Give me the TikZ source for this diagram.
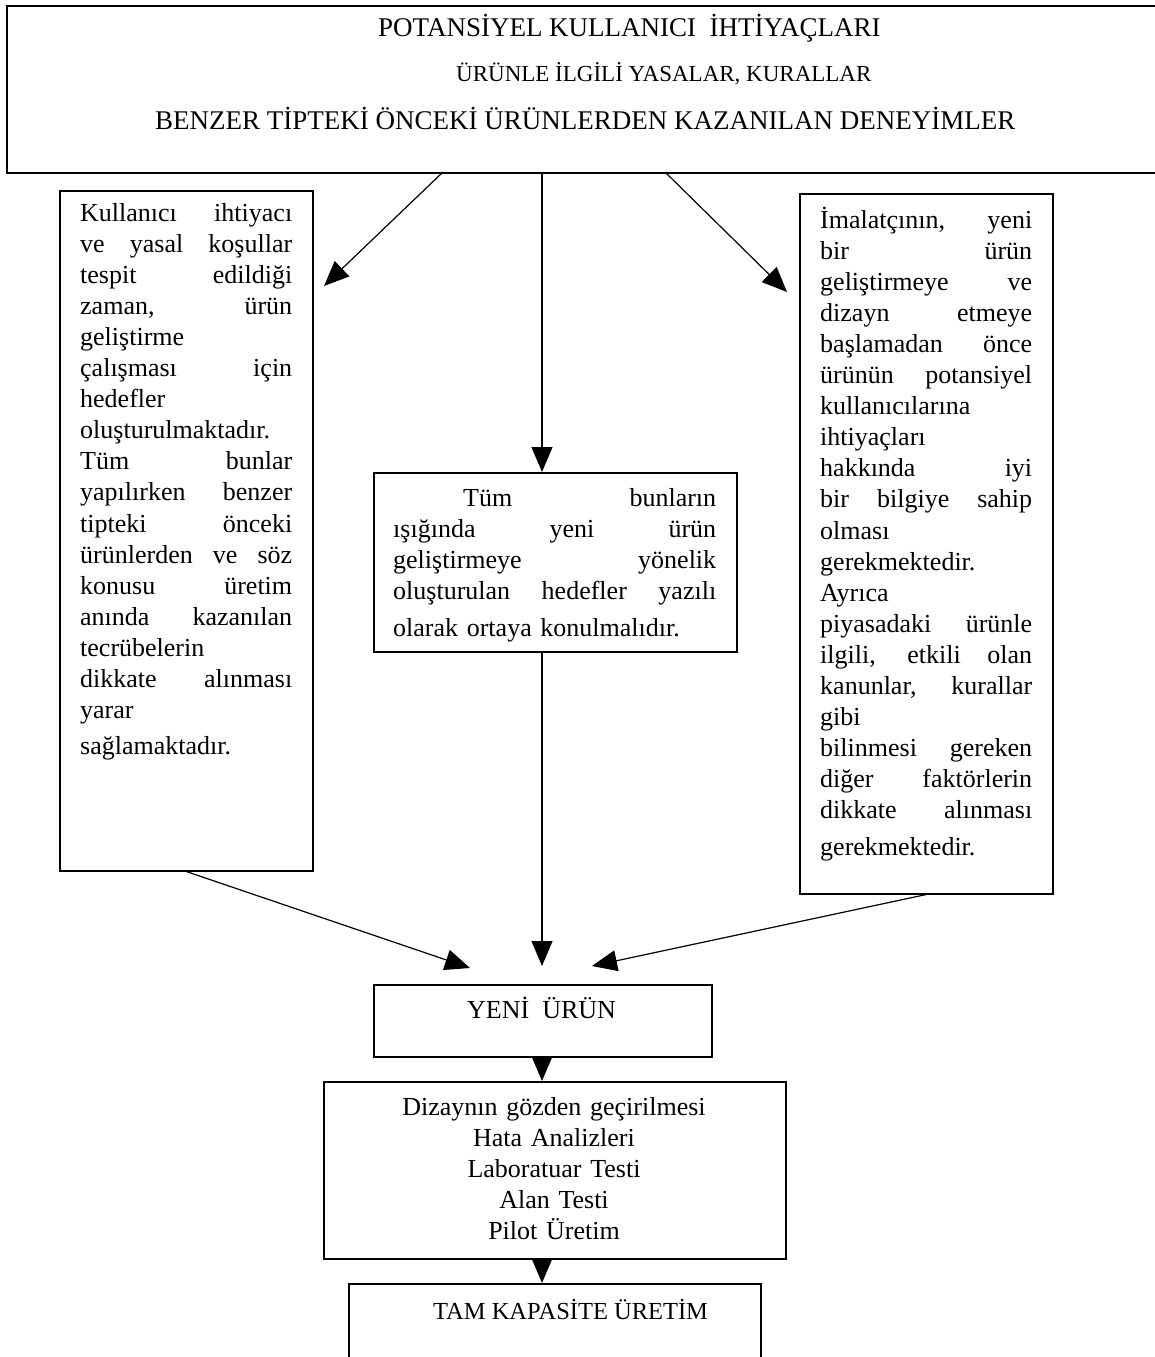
\documentclass[tikz,border=0pt]{standalone}
\usepackage{fontspec}
\setmainfont{Liberation Serif}
\usetikzlibrary{arrows.meta}
\newcommand{\J}[1]{\makebox[\hsize][s]{\spaceskip=0.25em plus 1fil\relax #1}}
\newcommand{\bodyfont}{\fontsize{26}{31.1}\selectfont}
\newcommand{\topfont}{\fontsize{27}{30}\selectfont}
\newcommand{\topfontb}{\fontsize{23}{30}\selectfont}
\begin{document}
\begin{tikzpicture}[x=1pt,y=-1pt,
  box/.style={draw, line width=1.5pt, rectangle, inner sep=0pt, anchor=north west},
  arr/.style={line width=1.2pt, -{Triangle[length=25pt,width=21pt]}},
  para/.style={anchor=base west, inner sep=0pt, align=left, text width=#1, font=\bodyfont},
  toptext/.style={anchor=base west, inner sep=0pt, font=\topfont},
  ]
\fill[white] (0,0) rectangle (1155,1357);
\useasboundingbox (0,0) rectangle (1155,1357);

% boxes
\node[box, minimum width=1160pt, minimum height=167pt] (top) at (6,5) {};
\node[box, minimum width=253pt, minimum height=680pt] (L) at (59,190) {};
\node[box, minimum width=253pt, minimum height=700pt] (R) at (799,193) {};
\node[box, minimum width=363pt, minimum height=179pt] (M) at (373,472) {};
\node[box, minimum width=338pt, minimum height=72pt] (Y) at (373,984) {};
\node[box, minimum width=462pt, minimum height=177pt] (D) at (323,1081) {};
\node[box, minimum width=412pt, minimum height=90pt] (T) at (348,1283) {};

% top texts
\node[toptext] (t1) at (378,36) {POTANSİYEL KULLANICI\ \ İHTİYAÇLARI};
\node[toptext, font=\topfontb] (t2) at (456,81) {ÜRÜNLE İLGİLİ YASALAR, KURALLAR};
\node[toptext] (t3) at (155,129) {BENZER TİPTEKİ ÖNCEKİ ÜRÜNLERDEN KAZANILAN DENEYİMLER};

% left text
\node[para=212pt] (Ltext) at (80,221) {%
\J{Kullanıcı ihtiyacı}\\
\J{ve yasal koşullar}\\
\J{tespit edildiği}\\
\J{zaman, ürün}\\
geliştirme\\
\J{çalışması için}\\
hedefler\\
oluşturulmaktadır.\\
\J{Tüm bunlar}\\
\J{yapılırken benzer}\\
\J{tipteki önceki}\\
\J{ürünlerden ve söz}\\
\J{konusu üretim}\\
\J{anında kazanılan}\\
tecrübelerin\\
\J{dikkate alınması}\\
yarar\\[5pt]
sağlamaktadır.};

% right text
\node[para=212pt] (Rtext) at (820,228) {%
\J{İmalatçının, yeni}\\
\J{bir ürün}\\
\J{geliştirmeye ve}\\
\J{dizayn etmeye}\\
\J{başlamadan önce}\\
\J{ürünün potansiyel}\\
kullanıcılarına\\
ihtiyaçları\\
\J{hakkında iyi}\\
\J{bir bilgiye sahip}\\
olması\\
gerekmektedir.\\
Ayrıca\\
\J{piyasadaki ürünle}\\
\J{ilgili, etkili olan}\\
\J{kanunlar, kurallar}\\
gibi\\
\J{bilinmesi gereken}\\
\J{diğer faktörlerin}\\
\J{dikkate alınması}\\[5pt]
gerekmektedir.};

% middle text
\node[para=323pt] (Mtext) at (393,506) {%
\J{\hspace*{70pt}Tüm bunların}\\
\J{ışığında yeni ürün}\\
\J{geliştirmeye yönelik}\\
\J{oluşturulan hedefler yazılı}\\[6pt]
olarak ortaya konulmalıdır.};

\node[anchor=base west, inner sep=0pt, font=\bodyfont] (Ytext) at (467,1018) {YENİ\ \ ÜRÜN};
\node[para=462pt, align=center, anchor=base] (Dtext) at (554,1115) {%
Dizaynın gözden geçirilmesi\\
Hata Analizleri\\
Laboratuar Testi\\
Alan Testi\\
Pilot Üretim};
\node[anchor=base west, inner sep=0pt, font=\fontsize{24.5}{30}\selectfont] (Ttext) at (433,1319) {TAM KAPASİTE ÜRETİM};

% connector end points
\coordinate (a1) at (443,172);
\coordinate (a2) at (542,172);
\coordinate (a3) at (665,172);
\coordinate (e1) at (324,286);
\coordinate (e3) at (787,292);
\coordinate (yl) at (470,968);
\coordinate (ym) at (542,966);
\coordinate (yr) at (592,966);

\draw[arr] (a1) -- (e1);
\draw[arr] (a2) -- (M.north -| a2);
\draw[arr] (a3) -- (e3);
\draw[arr] (L.south) -- (yl);
\draw[arr] (M.south -| a2) -- (ym);
\draw[arr] (R.south) -- (yr);
\draw[arr] (Y.south -| a2) -- (D.north -| a2);
\draw[arr] (D.south -| a2) -- (T.north -| a2);
\end{tikzpicture}
\end{document}
